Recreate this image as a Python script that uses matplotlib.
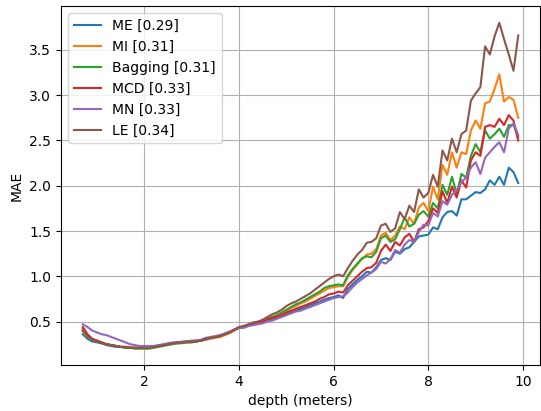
import numpy as np
import matplotlib
matplotlib.use("Agg")
import matplotlib.pyplot as plt

# depth grid (meters)
depth = [0.7, 0.8, 0.9, 1.0, 1.1, 1.2, 1.3, 1.4, 1.5, 1.6, 1.7, 1.8, 1.9, 2.0,
         2.1, 2.2, 2.3, 2.4, 2.5, 2.6, 2.7, 2.8, 2.9, 3.0, 3.1, 3.2, 3.3, 3.4,
         3.5, 3.6, 3.7, 3.8, 3.9, 4.0, 4.1, 4.2, 4.3, 4.4, 4.5, 4.6, 4.7, 4.8,
         4.9, 5.0, 5.1, 5.2, 5.3, 5.4, 5.5, 5.6, 5.7, 5.8, 5.9, 6.0, 6.1, 6.2,
         6.3, 6.4, 6.5, 6.6, 6.7, 6.8, 6.9, 7.0, 7.1, 7.2, 7.3, 7.4, 7.5, 7.6,
         7.7, 7.8, 7.9, 8.0, 8.1, 8.2, 8.3, 8.4, 8.5, 8.6, 8.7, 8.8, 8.9, 9.0,
         9.1, 9.2, 9.3, 9.4, 9.5, 9.6, 9.7, 9.8, 9.9]

me = [0.36, 0.31, 0.28, 0.27, 0.26, 0.24, 0.23, 0.22, 0.22, 0.21, 0.21, 0.21, 0.21, 0.21,
      0.21, 0.22, 0.23, 0.24, 0.25, 0.26, 0.26, 0.27, 0.27, 0.28, 0.28, 0.29, 0.31, 0.32,
      0.33, 0.34, 0.36, 0.38, 0.41, 0.43,
      0.44, 0.46, 0.47, 0.48, 0.49, 0.51, 0.53, 0.54, 0.56, 0.58, 0.60, 0.62, 0.64, 0.66,
      0.68, 0.70, 0.72, 0.74, 0.76,
      0.77, 0.79, 0.76, 0.86, 0.91, 0.96, 1.00, 1.05, 1.04, 1.10, 1.18,
      1.20, 1.18, 1.27, 1.25, 1.30, 1.32, 1.38, 1.44, 1.45, 1.46, 1.54, 1.52, 1.65, 1.71,
      1.72, 1.67, 1.85, 1.85, 1.89, 1.93, 1.92, 1.96, 2.06, 2.01, 2.10, 2.01, 2.20, 2.15, 2.03]

mi = [0.40, 0.33, 0.30, 0.28, 0.27, 0.25, 0.24, 0.23, 0.22, 0.22, 0.22, 0.21, 0.21, 0.21,
      0.21, 0.22, 0.23, 0.24, 0.25, 0.26, 0.26, 0.27, 0.27, 0.27, 0.28, 0.29, 0.30, 0.31,
      0.32, 0.33, 0.35, 0.37, 0.40, 0.43,
      0.44, 0.46, 0.47, 0.49, 0.50, 0.52, 0.55, 0.57, 0.59, 0.62, 0.65, 0.67, 0.70, 0.72,
      0.75, 0.78, 0.81, 0.84, 0.87,
      0.88, 0.89, 0.89, 0.99, 1.07, 1.13, 1.19, 1.24, 1.25, 1.30, 1.45,
      1.48, 1.40, 1.45, 1.55, 1.52, 1.65, 1.58, 1.76, 1.81, 1.72, 1.99, 1.85, 2.23, 2.12,
      2.37, 2.20, 2.37, 2.35, 2.61, 2.72, 2.63, 2.91, 2.93, 3.07, 3.23, 2.93, 2.98, 2.95, 2.75]

bagging = [0.42, 0.34, 0.30, 0.28, 0.26, 0.25, 0.24, 0.23, 0.22, 0.21, 0.21, 0.20, 0.20, 0.20,
           0.20, 0.21, 0.22, 0.23, 0.24, 0.25, 0.26, 0.26, 0.27, 0.27, 0.28, 0.29, 0.30, 0.32,
           0.33, 0.34, 0.36, 0.38, 0.41, 0.43,
           0.45, 0.46, 0.48, 0.49, 0.51, 0.53, 0.55, 0.57, 0.60, 0.63, 0.66, 0.69, 0.71, 0.74,
           0.77, 0.80, 0.83, 0.87, 0.89,
           0.90, 0.91, 0.90, 1.01, 1.08, 1.14, 1.20, 1.22, 1.21, 1.27, 1.42,
           1.45, 1.38, 1.41, 1.52, 1.65, 1.55, 1.58, 1.68, 1.72, 1.66, 1.81, 1.75, 2.01, 1.90,
           2.10, 1.91, 2.13, 2.09, 2.33, 2.46, 2.37, 2.61, 2.52, 2.57, 2.63, 2.54, 2.67, 2.67, 2.54]

mcd = [0.44, 0.36, 0.31, 0.29, 0.27, 0.25, 0.24, 0.23, 0.22, 0.22, 0.21, 0.21, 0.21, 0.21,
       0.21, 0.22, 0.23, 0.24, 0.25, 0.26, 0.27, 0.27, 0.28, 0.28, 0.29, 0.29, 0.31, 0.32,
       0.33, 0.34, 0.36, 0.38, 0.41, 0.43,
       0.45, 0.46, 0.47, 0.48, 0.50, 0.52, 0.54, 0.55, 0.57, 0.60, 0.62, 0.64, 0.66, 0.68,
       0.70, 0.72, 0.75, 0.77, 0.80,
       0.81, 0.83, 0.82, 0.90, 0.95, 1.00, 1.05, 1.09, 1.10, 1.15, 1.28,
       1.35, 1.28, 1.38, 1.34, 1.43, 1.47, 1.38, 1.52, 1.54, 1.61, 1.75, 1.70, 1.94, 1.81,
       1.99, 1.87, 2.06, 1.98, 2.28, 2.37, 2.33, 2.65, 2.67, 2.65, 2.74, 2.67, 2.78, 2.72, 2.50]

mn = [0.47, 0.44, 0.40, 0.38, 0.36, 0.35, 0.33, 0.31, 0.29, 0.27, 0.25, 0.24, 0.23, 0.23,
      0.23, 0.23, 0.24, 0.25, 0.26, 0.27, 0.27, 0.28, 0.28, 0.29, 0.29, 0.30, 0.32, 0.33,
      0.34, 0.35, 0.37, 0.39, 0.41, 0.43,
      0.43, 0.45, 0.46, 0.47, 0.48, 0.50, 0.51, 0.53, 0.55, 0.57, 0.59, 0.61, 0.62, 0.64,
      0.66, 0.68, 0.70, 0.72, 0.74,
      0.76, 0.77, 0.78, 0.82, 0.88, 0.93, 0.97, 1.01, 1.04, 1.08, 1.16,
      1.14, 1.19, 1.29, 1.26, 1.35, 1.40, 1.38, 1.49, 1.57, 1.56, 1.70, 1.66, 1.83, 1.79,
      1.90, 1.95, 2.04, 2.09, 2.20, 2.26, 2.13, 2.31, 2.37, 2.43, 2.48, 2.37, 2.63, 2.69, 2.56]

le = [0.40, 0.34, 0.30, 0.28, 0.26, 0.25, 0.24, 0.23, 0.22, 0.22, 0.21, 0.21, 0.21, 0.21,
      0.21, 0.22, 0.23, 0.24, 0.25, 0.26, 0.27, 0.27, 0.28, 0.28, 0.28, 0.29, 0.31, 0.32,
      0.33, 0.34, 0.36, 0.38, 0.41, 0.44,
      0.45, 0.47, 0.49, 0.50, 0.52, 0.55, 0.58, 0.60, 0.63, 0.67, 0.70, 0.72, 0.75, 0.78,
      0.81, 0.85, 0.89, 0.93, 0.97,
      1.00, 1.02, 1.00, 1.09, 1.17, 1.24, 1.29, 1.37, 1.38, 1.42, 1.56,
      1.58, 1.49, 1.53, 1.71, 1.63, 1.78, 1.71, 1.96, 1.87, 1.92, 2.12, 1.99, 2.39, 2.28,
      2.52, 2.37, 2.57, 2.61, 2.94, 3.02, 3.09, 3.54, 3.45, 3.65, 3.80, 3.62, 3.45, 3.27, 3.66]

labels = ["ME [0.29]", "MI [0.31]", "Bagging [0.31]", "MCD [0.33]", "MN [0.33]", "LE [0.34]"]
series = [me, mi, bagging, mcd, mn, le]

fig = plt.figure(figsize=(5.41, 4.11), dpi=100)
ax = fig.add_axes([61 / 541, 1 - 365 / 411, 479 / 541, 358.5 / 411])
for vals, lab in zip(series, labels):
    ax.plot(depth, vals, label=lab)

ax.set_xlabel("depth (meters)")
ax.set_ylabel("MAE")
ax.grid(True)
ax.legend(loc="upper left")

fig.savefig("out.png", dpi=100)
